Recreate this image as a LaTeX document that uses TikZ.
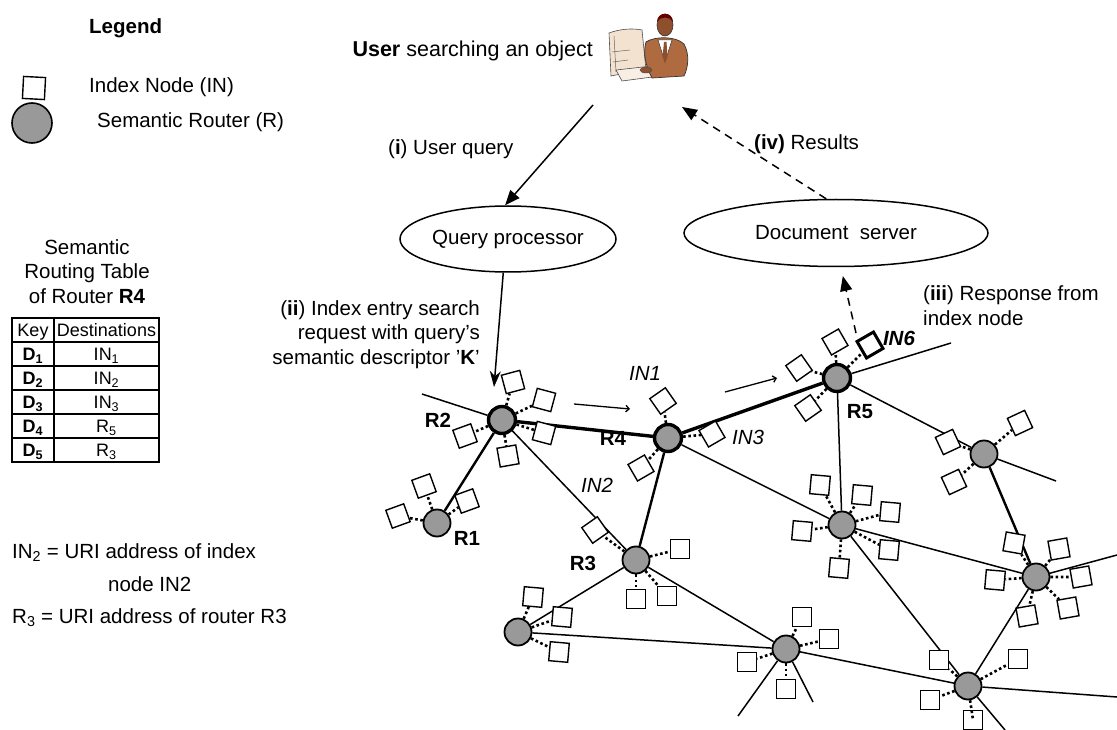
\documentclass[tikz,border=0pt]{standalone}
\usepackage{fontspec}
\setmainfont{Liberation Sans}
\usetikzlibrary{arrows.meta}
\usetikzlibrary{shapes.geometric}
\tikzset{>={Straight Barb[scale=.8]}}
\definecolor{routergray}{HTML}{999999}
\definecolor{suit}{HTML}{B06A3F}
\definecolor{skin}{HTML}{8E4F2C}
\definecolor{screen}{HTML}{F4E2D0}
\tikzset{
  txt/.style={font=\fontsize{20.5}{24.5}\selectfont, inner sep=0pt},
  tabtxt/.style={font=\fontsize{18}{21}\selectfont, inner sep=0pt},
  router/.style={circle, draw, fill=routergray, line width=1.8pt, minimum size=27pt, inner sep=0pt},
  hub/.style={router, line width=3.4pt},
  index/.style={draw, fill=white, line width=1.4pt, minimum size=19pt, inner sep=0pt},
  hit/.style={index, line width=3pt},
  idx/.style={line width=2.6pt, dash pattern=on 2.6pt off 2.6pt},
  link/.style={line width=1.5pt},
  heavy/.style={line width=2.4pt},
  route/.style={line width=3.4pt},
  server/.style={ellipse, draw, line width=1.5pt, inner sep=0pt, txt},
  query/.style={line width=1.5pt, -{Triangle[length=15pt,width=12pt]}},
  reply/.style={query, dash pattern=on 8pt off 6pt},
}

\begin{document}
\begin{tikzpicture}[x=1pt, y=-1pt]
  \useasboundingbox (0,0) rectangle (1117,730);

  % legend
  \node[txt, anchor=base west] (leg) at (89,34) {\textbf{Legend}};
  \node[index, rotate=-3, minimum size=22pt] (legidx) at (34,88) {};
  \node[txt, anchor=base west] (legidxtxt) at (89,93) {Index Node (IN)};
  \node[router, minimum size=40pt, line width=1.6pt] (legrt) at (32,123) {};
  \node[txt, anchor=base west] (legrttxt) at (97,128) {Semantic Router (R)};

  % routing table of R4
  \node[txt, align=center, anchor=base] (tabtitle) at (87,303)
    {Semantic\\Routing Table\\of Router \textbf{R4}};
  \draw[line width=1.8pt] (12,318) rectangle (159,462);
  \foreach \ry in {342,366,390,414,438}
    \draw[line width=1.8pt] (12,\ry) -- (159,\ry);
  \draw[line width=1.8pt] (54,318) -- (54,462);
  \node[tabtxt, anchor=base] (key) at (33,336.5) {Key};
  \node[tabtxt, anchor=base] (dest) at (106.5,336.5) {Destinations};
  \foreach \i/\v in {1/IN\textsubscript{1}, 2/IN\textsubscript{2}, 3/IN\textsubscript{3},
                     4/R\textsubscript{5}, 5/R\textsubscript{3}}{
    \node[tabtxt, anchor=base] (d\i) at (33,336.5+24*\i) {\textbf{D\textsubscript{\i}}};
    \node[tabtxt, anchor=base] (v\i) at (106.5,336.5+24*\i) {\v};
  }

  % notes
  \node[txt, anchor=base west] (note1) at (12,558) {IN\textsubscript{2} = URI address of index};
  \node[txt, anchor=base west] (note2) at (108,591) {node IN2};
  \node[txt, anchor=base west] (note3) at (12,623) {R\textsubscript{3} = URI address of router R3};

  % user at the computer
  \node[txt, font=\fontsize{21.5}{25}\selectfont, anchor=base east] (user) at (593,57)
    {\textbf{User} searching an object};
  \filldraw[fill=screen, draw=black!70, line width=.6pt]
    (609,33) .. controls (620,29) and (632,28) .. (642,30) -- (646,70)
    .. controls (635,72) and (620,74) .. (611,76) -- cycle;
  \draw[black!60, line width=.5pt] (614,36) -- (616,72) (612,52) -- (630,50) (613,62) -- (628,60);
  \filldraw[fill=screen!60, draw=black!70, line width=.6pt]
    (616,70) -- (652,66) -- (660,76) -- (622,81) -- cycle;
  \filldraw[fill=suit, draw=black!80, line width=.7pt]
    (646,42) .. controls (655,36) and (676,36) .. (684,44)
    .. controls (690,55) and (688,68) .. (684,76) -- (652,78)
    .. controls (645,65) and (643,52) .. (646,42) -- cycle;
  \filldraw[fill=white, draw=black!80, line width=.5pt] (658,40) -- (665,62) -- (672,40) -- cycle;
  \fill[skin] (664,42) -- (666.5,42) -- (667.5,57) -- (665,62) -- (662.5,57) -- cycle;
  \filldraw[fill=skin, draw=black!80, line width=.6pt] (665,25) ellipse (8 and 11);
  \fill[black!60!red] (657,22) .. controls (657,11) and (673,11) .. (673,22)
    .. controls (670,16) and (660,16) .. (657,22) -- cycle;
  \filldraw[fill=skin, draw=black!70, line width=.5pt] (646,70) ellipse (6 and 3);

  % query and document servers
  \node[server, minimum width=216pt, minimum height=66pt] (qp) at (508,239) {Query processor};
  \node[server, minimum width=304pt, minimum height=67pt] (ds) at (836,233) {Document\ \ server};

  % routers
  \node[hub] (r2) at (502,420) {};
  \node[hub] (r4) at (668,438) {};
  \node[hub] (r5) at (837,378) {};
  \node[router] (r1) at (437,523) {};
  \node[router] (r3) at (636,560) {};
  \node[router] (r6) at (518,632) {};
  \node[router] (r7) at (984,454) {};
  \node[router] (r8) at (842,525) {};
  \node[router] (r9) at (1036,577) {};
  \node[router] (r10) at (786,649) {};
  \node[router] (r11) at (968,686) {};

  % loose ends
  \coordinate (r2out) at (422,394);
  \coordinate (r5out) at (951,343);
  \coordinate (r7out) at (1056,481);
  \coordinate (r9out) at (1117,555);
  \coordinate (r10outa) at (738,716);
  \coordinate (r10outb) at (813,702);
  \coordinate (r11outa) at (1117,697);
  \coordinate (r11outb) at (1005,730);

  % links
  \draw[route] (r2) -- (r4);
  \draw[route] (r4) -- (r5);
  \draw[heavy] (r2) -- (r1);
  \draw[heavy] (r4) -- (r3);
  \draw[heavy] (r7) -- (r9);
  \draw[link] (r2) -- (r3);
  \draw[link] (r4) -- (r8);
  \draw[link] (r3) -- (r6);
  \draw[link] (r3) -- (r10);
  \draw[link] (r6) -- (r10);
  \draw[link] (r5) -- (r7);
  \draw[link] (r5) -- (r8);
  \draw[link] (r8) -- (r9);
  \draw[link] (r8) -- (r11);
  \draw[link] (r9) -- (r11);
  \draw[link] (r10) -- (r11);
  \draw[link] (r2) -- (r2out);
  \draw[link] (r5) -- (r5out);
  \draw[link] (r7) -- (r7out);
  \draw[link] (r9) -- (r9out);
  \draw[link] (r10) -- (r10outa);
  \draw[link] (r10) -- (r10outb);
  \draw[link] (r11) -- (r11outa);
  \draw[link] (r11) -- (r11outb);

  % index nodes hanging off each router
  \foreach \r/\lst in {
      r2/{a/513/382/15, b/544/400/-15, c/544/433/-15, d/508/456/10, e/465/436/20},
      r4/{a/663/401/35, b/712/434/30, c/641/468/30},
      r5/{a/835/342/30, b/799/368/35, c/808/408/35},
      r1/{a/424/486/20, b/467/501/20, c/398/516/20},
      r3/{a/595/530/35, b/680/549/0, c/636/599/0, d/667/596/0},
      r6/{a/533/597/-5, b/562/617/-5, c/559/652/-5},
      r7/{a/1020/423/25, b/948/442/25, c/954/482/25},
      r8/{a/820/485/-5, b/862/495/-5, c/890/512/-5, d/802/531/-5, e/889/550/-5, f/839/568/-5},
      r9/{a/1014/543/-10, b/1059/549/10, c/995/580/-5, d/1081/577/10, e/1027/616/10, f/1068/608/10},
      r10/{a/802/617/0, b/829/639/0, c/747/662/0},
      r11/{a/939/660/0, b/1018/659/0, c/930/700/0}}{
    \foreach \n/\sx/\sy/\ang in \lst{
      \node[index, rotate=\ang] (\r\n) at (\sx,\sy) {};
      \draw[idx] (\r) -- (\r\n);
    }
  }
  \node[hit, rotate=30] (in6) at (870,345) {};
  \draw[idx] (r5) -- (in6);
  \node[index] (r10d) at (786,689) {};
  \draw[idx] (r10) -- (r10d);
  \node[index] (r11d) at (973,720) {};
  \draw[idx] (r11) -- (r11d.center);

  % router and index labels
  \node[txt] (r1lab) at (467,538) {\textbf{R1}};
  \node[txt] (r2lab) at (438,420) {\textbf{R2}};
  \node[txt] (r3lab) at (583,563) {\textbf{R3}};
  \node[txt] (r4lab) at (613,438) {\textbf{R4}};
  \node[txt] (r5lab) at (860,412) {\textbf{R5}};
  \node[txt] (in1lab) at (645,373) {\textit{IN1}};
  \node[txt] (in2lab) at (597,485) {\textit{IN2}};
  \node[txt] (in3lab) at (748,437) {\textit{IN3}};
  \node[txt] (in6lab) at (899,338) {\textbf{\textit{IN6}}};

  % forwarding direction
  \coordinate (fa1) at (574,404);
  \coordinate (fa2) at (630,409);
  \coordinate (fb1) at (725,392);
  \coordinate (fb2) at (777,378);
  \draw[line width=1.3pt, ->] (fa1) -- (fa2);
  \draw[line width=1.3pt, ->] (fb1) -- (fb2);

  % steps of the search
  \coordinate (ustart) at (593,105);
  \draw[query] (ustart) -- (qp.95);
  \node[txt, anchor=base west] (step1) at (388,155) {(\textbf{i}) User query};

  \coordinate (ktip) at (494,387);
  \draw[line width=1.5pt, -{Stealth[length=16pt,width=11pt]}] (qp.262) -- (ktip);
  \node[txt, align=right, anchor=base east] (step2) at (480,364)
    {(\textbf{ii}) Index entry search\\request with query’s\\semantic descriptor ’\textbf{K}’};

  \coordinate (hitup) at (856,333);
  \draw[reply, shorten >=9pt] (hitup) -- (ds.278);
  \node[txt, align=left, anchor=base west] (step3) at (923,325)
    {(\textbf{iii}) Response from\\index node};

  \coordinate (utip) at (682,107);
  \draw[reply] (ds.106) -- (utip);
  \node[txt, anchor=base west] (step4) at (754,150) {\textbf{(iv)} Results};
\end{tikzpicture}
\end{document}
